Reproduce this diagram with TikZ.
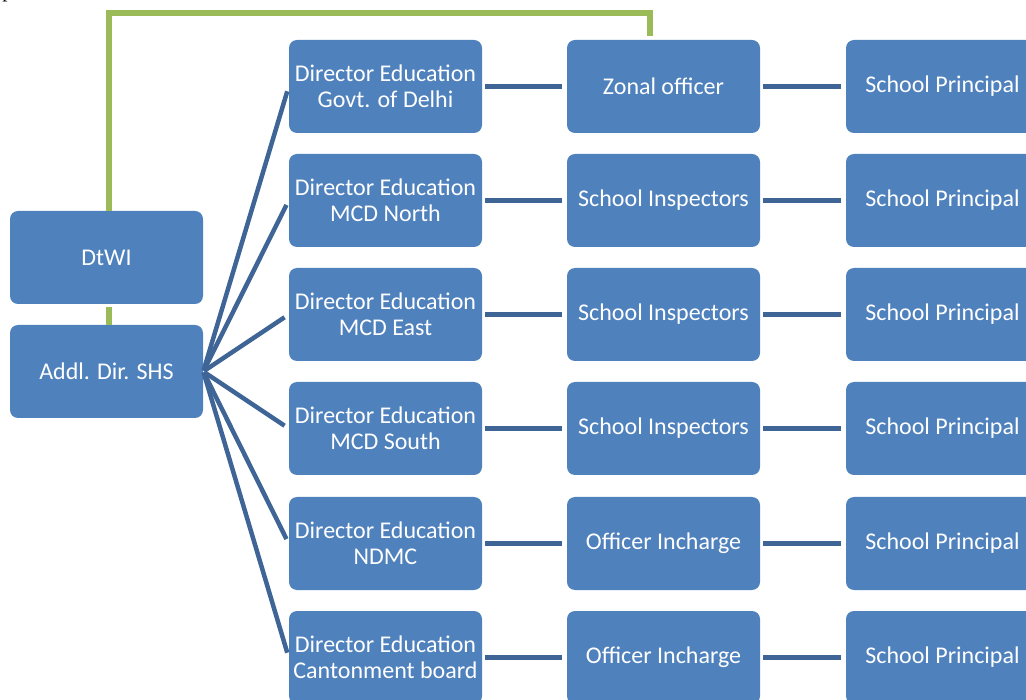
\documentclass[tikz,border=0pt]{standalone}
\usepackage{fontspec}
\setmainfont{Carlito}
\newfontfamily\pagefont{Liberation Serif}
\usetikzlibrary{arrows,shapes}
\definecolor{boxblue}{HTML}{4F81BD}
\definecolor{lineblue}{HTML}{3F6596}
\definecolor{linegreen}{HTML}{9BBB59}

\begin{document}
\begin{tikzpicture}[x=1pt,y=-1pt,semithick,
    box/.style={shape=rectangle,rounded corners=8pt,fill=boxblue,text=white,
        minimum width=193pt,minimum height=93pt,inner sep=0pt,align=center,
        font=\fontsize{24}{26}\selectfont},
    blueline/.style={draw=lineblue,line width=5pt,shorten <=3pt,shorten >=5pt},
    fanline/.style={draw=lineblue,line width=4.5pt,shorten <=1pt,shorten >=5pt},
    greenline/.style={draw=linegreen,line width=5.5pt}]
            \useasboundingbox (0,0) rectangle (1026,700);
            \node[anchor=base west,inner sep=0pt,font=\pagefont\fontsize{21}{25}\selectfont](pg)at(2, -2){p};
            \node[box](DtWI)at(106.5, 257.5){DtWI};
            \node[box](SHS)at(106.5, 371.5){Addl. Dir. SHS};
            \node[box](D1)at(385.5, 86.5){Director Education\\Govt. of Delhi};
            \node[box](D2)at(385.5, 200.5){Director Education\\MCD North};
            \node[box](D3)at(385.5, 314.5){Director Education\\MCD East};
            \node[box](D4)at(385.5, 428.5){Director Education\\MCD South};
            \node[box](D5)at(385.5, 543.5){Director Education\\NDMC};
            \node[box](D6)at(385.5, 657.5){Director Education\\Cantonment board};
            \node[box](O1)at(663.5, 86.5){Zonal officer};
            \node[box](O2)at(663.5, 200.5){School Inspectors};
            \node[box](O3)at(663.5, 314.5){School Inspectors};
            \node[box](O4)at(663.5, 428.5){School Inspectors};
            \node[box](O5)at(663.5, 543.5){Officer Incharge};
            \node[box](O6)at(663.5, 657.5){Officer Incharge};
            \node[box](P1)at(942.5, 86.5){School Principal};
            \node[box](P2)at(942.5, 200.5){School Principal};
            \node[box](P3)at(942.5, 314.5){School Principal};
            \node[box](P4)at(942.5, 428.5){School Principal};
            \node[box](P5)at(942.5, 543.5){School Principal};
            \node[box](P6)at(942.5, 657.5){School Principal};
            % green links
            \draw[greenline] ([xshift=2.5pt]DtWI.north) -- ++(0,-197.5) -| ([xshift=-13.5pt,yshift=4pt]O1.north);
            \draw[greenline] ([xshift=2.5pt,yshift=-3pt]DtWI.south) -- ([xshift=2.5pt]SHS.north);
            % fan out
            \path[fanline] (SHS.east) edge (D1.west)
            (SHS.east) edge (D2.west)
            (SHS.east) edge (D3.west)
            (SHS.east) edge (D4.west)
            (SHS.east) edge (D5.west)
            (SHS.east) edge (D6.west);
            % rows
            \path[blueline] (D1) edge (O1)
            (D2) edge (O2)
            (D3) edge (O3)
            (D4) edge (O4)
            (D5) edge (O5)
            (D6) edge (O6)
            (O1) edge (P1)
            (O2) edge (P2)
            (O3) edge (P3)
            (O4) edge (P4)
            (O5) edge (P5)
            (O6) edge (P6);
        \end{tikzpicture}
\end{document}
